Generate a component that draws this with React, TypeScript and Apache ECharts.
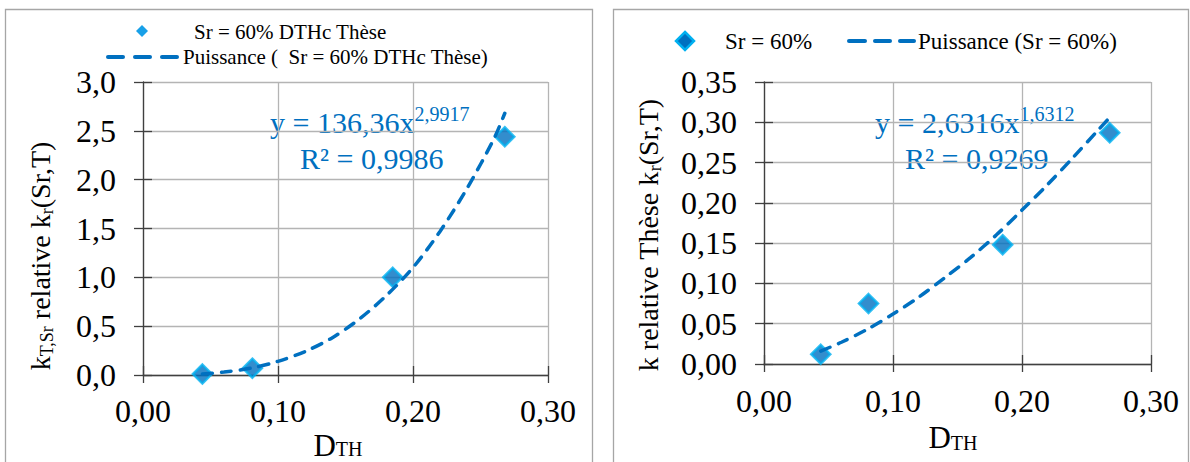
import React, { useEffect, useRef } from "react";
import * as echarts from "echarts";

// ---- data ----
const xTickStep = 0.1;
const dTH = [0.044, 0.081, 0.185, 0.268];
const kLeft = [0.01, 0.07, 1.0, 2.44];
const kRight = [0.012, 0.075, 0.148, 0.287];

const trendLeftX = [0.044, 0.06, 0.08, 0.1, 0.12, 0.14, 0.16, 0.18, 0.2, 0.22, 0.24, 0.26, 0.268];
const trendLeftY = [0.01, 0.03, 0.07, 0.14, 0.24, 0.38, 0.57, 0.81, 1.1, 1.47, 1.91, 2.42, 2.68];
const trendRightX = [0.044, 0.06, 0.08, 0.1, 0.12, 0.14, 0.16, 0.18, 0.2, 0.22, 0.24, 0.26, 0.268];
const trendRightY = [0.016, 0.027, 0.043, 0.062, 0.083, 0.107, 0.132, 0.16, 0.191, 0.223, 0.257, 0.292, 0.306];

const leftLegend = ["Sr = 60% DTHc Thèse", "Puissance (  Sr = 60% DTHc Thèse)"];
const rightLegend = ["Sr = 60%", "Puissance (Sr = 60%)"];
const leftEq = ["y = 136,36x", "2,9917", "R² = 0,9986"];
const rightEq = ["y = 2,6316x", "1,6312", "R² = 0,9269"];

const FONT = "Liberation Serif, Times New Roman, serif";
const BLUE = "#0070C0";
const LIGHT = "#00B0F0";
const AXIS = "#404040";
const GRID = "#b4b4b4";

type Part = { t: string; s: number; dy: number };

let ctx: CanvasRenderingContext2D | null = null;
function measure(t: string, s: number): number {
  if (!ctx) ctx = document.createElement("canvas").getContext("2d");
  if (!ctx) return t.length * s * 0.5;
  ctx.font = `${s}px 'Liberation Serif', serif`;
  return ctx.measureText(t).width;
}

function richGroup(parts: Part[], x: number, y: number, color: string, anchor: "start" | "center", rotation = 0): any {
  const widths = parts.map((p) => measure(p.t, p.s));
  const total = widths.reduce((a, b) => a + b, 0);
  let cx = anchor === "center" ? -total / 2 : 0;
  const children = parts.map((p, i) => {
    const el = {
      type: "text",
      x: cx,
      y: p.dy,
      style: {
        text: p.t,
        fontSize: p.s,
        fontFamily: FONT,
        fill: color,
        textAlign: "left",
        textVerticalAlign: "middle",
        align: "left",
        verticalAlign: "middle",
      },
    };
    cx += widths[i];
    return el;
  });
  return { type: "group", x, y, rotation, z: 100, children };
}

function diamond(cx: number, cy: number, r: number, fill: string, stroke?: string, lw = 0): any {
  return {
    type: "polygon",
    z: 100,
    shape: { points: [[cx, cy - r], [cx + r, cy], [cx, cy + r], [cx - r, cy]] },
    style: { fill, stroke: stroke || fill, lineWidth: lw },
  };
}

function dash(x1: number, x2: number, y: number): any {
  return {
    type: "line",
    z: 100,
    shape: { x1, y1: y, x2, y2: y },
    style: { stroke: BLUE, lineWidth: 4, lineCap: "round" },
  };
}

function plainText(t: string, x: number, y: number, s: number): any {
  return {
    type: "text",
    z: 100,
    x,
    y,
    style: {
      text: t,
      fontSize: s,
      fontFamily: FONT,
      fill: "#000",
      textAlign: "left",
      textVerticalAlign: "middle",
      align: "left",
      verticalAlign: "middle",
    },
  };
}

const fmt = (d: number) => (v: number) => v.toFixed(d).replace(".", ",");

function xAxisCfg(gridIndex: number, margin: number) {
  return {
    gridIndex,
    type: "value",
    position: "bottom",
    min: 0,
    max: 0.3,
    interval: xTickStep,
    axisLine: { onZero: false, lineStyle: { color: AXIS, width: 1.3 } },
    axisTick: { length: 8, lineStyle: { color: AXIS, width: 1.3 } },
    splitLine: { show: true, lineStyle: { color: GRID, width: 1.3 } },
    axisLabel: { fontSize: 32, fontFamily: FONT, color: "#000", margin, formatter: fmt(2) },
  };
}

function yAxisCfg(gridIndex: number, max: number, interval: number, dec: number) {
  return {
    gridIndex,
    type: "value",
    position: "left",
    min: 0,
    max,
    interval,
    axisLine: { show: true, onZero: false, lineStyle: { color: AXIS, width: 1.3 } },
    axisTick: { show: true, length: 9, lineStyle: { color: AXIS, width: 1.3 } },
    splitLine: { show: true, lineStyle: { color: GRID, width: 1.3 } },
    axisLabel: { fontSize: 32, fontFamily: FONT, color: "#000", margin: 27, formatter: fmt(dec) },
  };
}

// inner half of the crossing tick marks
function innerTicks(base: any) {
  return {
    ...base,
    axisLine: { show: false },
    axisLabel: { show: false },
    splitLine: { show: false },
    axisTick: { show: true, inside: true, length: 9, lineStyle: { color: AXIS, width: 1.3 } },
  };
}

export default function App() {
  const ref = useRef<HTMLDivElement>(null);
  useEffect(() => {
    if (!ref.current) return;
    const chart = echarts.init(ref.current, null, { renderer: "svg" });

    const graphics: any[] = [
      { type: "rect", z: 0, shape: { x: 5.5, y: 9.5, width: 587, height: 480 }, style: { fill: "none", stroke: "#a6a6a6", lineWidth: 1.3 } },
      { type: "rect", z: 0, shape: { x: 613.5, y: 9.5, width: 575, height: 480 }, style: { fill: "none", stroke: "#a6a6a6", lineWidth: 1.3 } },
      // left legend
      diamond(142, 31, 6, "#18A0E8"),
      plainText(leftLegend[0], 194, 32, 21),
      dash(108, 123, 57),
      dash(135, 150, 57),
      dash(162, 177, 57),
      plainText(leftLegend[1], 183, 57, 21),
      // right legend
      diamond(685, 41, 9, BLUE, LIGHT, 2.5),
      plainText(rightLegend[0], 725, 41, 23),
      dash(849, 865, 41),
      dash(875, 890, 41),
      dash(900, 914, 41),
      plainText(rightLegend[1], 918, 41, 23),
      // equations
      richGroup([{ t: leftEq[0], s: 30, dy: 0 }, { t: leftEq[1], s: 20, dy: -8 }], 270, 122, BLUE, "start"),
      richGroup([{ t: leftEq[2], s: 30, dy: 0 }], 300, 158, BLUE, "start"),
      richGroup([{ t: rightEq[0], s: 30, dy: 0 }, { t: rightEq[1], s: 20, dy: -8 }], 875, 122, BLUE, "start"),
      richGroup([{ t: rightEq[2], s: 30, dy: 0 }], 905, 158, BLUE, "start"),
      // x titles
      richGroup([{ t: "D", s: 31, dy: 0 }, { t: "TH", s: 20, dy: 4 }], 338, 445, "#000", "center"),
      richGroup([{ t: "D", s: 31, dy: 0 }, { t: "TH", s: 20, dy: 6 }], 953, 437, "#000", "center"),
      // y titles
      richGroup(
        [
          { t: "k", s: 28, dy: 0 },
          { t: "T,Sr", s: 18, dy: 7 },
          { t: " relative k", s: 28, dy: 0 },
          { t: "r", s: 18, dy: 7 },
          { t: "(Sr,T)", s: 28, dy: 0 },
        ],
        40,
        256,
        "#000",
        "center",
        Math.PI / 2
      ),
      richGroup(
        [
          { t: "k relative Thèse k", s: 28, dy: 0 },
          { t: "r", s: 18, dy: 7 },
          { t: "(Sr,T)", s: 28, dy: 0 },
        ],
        648,
        235,
        "#000",
        "center",
        Math.PI / 2
      ),
    ];

    const scatterStyle = { color: BLUE, borderColor: LIGHT, borderWidth: 2.5 };
    const lineStyle = { color: BLUE, width: 3.5, type: [10, 9], cap: "round" };

    const xL = xAxisCfg(0, 20);
    const xR = xAxisCfg(1, 21);
    const yL = yAxisCfg(0, 3, 0.5, 1);
    const yR = yAxisCfg(1, 0.35, 0.05, 2);

    chart.setOption({
      animation: false,
      backgroundColor: "#fff",
      grid: [
        { left: 143, top: 82, width: 405, height: 293 },
        { left: 764, top: 82, width: 387, height: 282 },
      ],
      xAxis: [xL, xR, innerTicks(xL), innerTicks(xR)],
      yAxis: [yL, yR, innerTicks(yL), innerTicks(yR)],
      series: [
        {
          type: "scatter",
          xAxisIndex: 0,
          yAxisIndex: 0,
          symbol: "diamond",
          symbolSize: 19,
          itemStyle: scatterStyle,
          data: dTH.map((x, i) => [x, kLeft[i]]),
          z: 3,
          silent: true,
        },
        {
          type: "line",
          xAxisIndex: 0,
          yAxisIndex: 0,
          showSymbol: false,
          symbol: "none",
          smooth: 0.3,
          lineStyle,
          data: trendLeftX.map((x, i) => [x, trendLeftY[i]]),
          z: 4,
          silent: true,
        },
        {
          type: "scatter",
          xAxisIndex: 1,
          yAxisIndex: 1,
          symbol: "diamond",
          symbolSize: 19,
          itemStyle: scatterStyle,
          data: dTH.map((x, i) => [x, kRight[i]]),
          z: 3,
          silent: true,
        },
        {
          type: "line",
          xAxisIndex: 1,
          yAxisIndex: 1,
          showSymbol: false,
          symbol: "none",
          smooth: 0.3,
          lineStyle,
          data: trendRightX.map((x, i) => [x, trendRightY[i]]),
          z: 4,
          silent: true,
        },
      ],
      graphic: graphics,
    });
    return () => chart.dispose();
  }, []);
  return <div ref={ref} style={{ position: "absolute", left: 0, top: 0, width: 1190, height: 462 }} />;
}
